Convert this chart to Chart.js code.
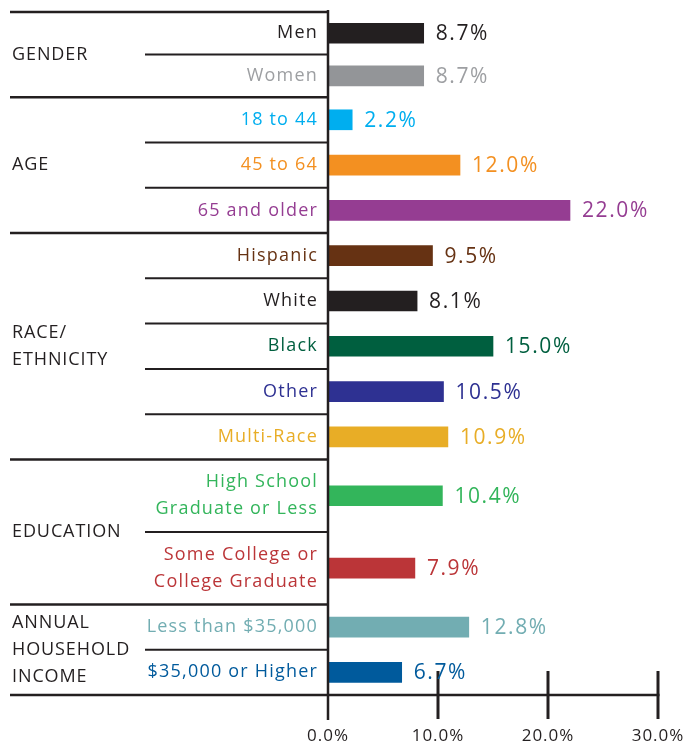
<!DOCTYPE html>
<html>
<head>
<meta charset="utf-8">
<script src="https://cdn.jsdelivr.net/npm/chart.js@4/dist/chart.umd.min.js"></script>
<style>
  html, body { margin: 0; padding: 0; background: #ffffff; }
  #wrap { width: 700px; height: 747px; position: relative; }
</style>
</head>
<body>
<div id="wrap"><canvas id="c" width="700" height="747"></canvas></div>
<script>
// ---- data ----
const groups = ['GENDER', 'AGE', 'RACE/\nETHNICITY', 'EDUCATION', 'ANNUAL\nHOUSEHOLD\nINCOME'];
const categories = ['Men', 'Women', '18 to 44', '45 to 64', '65 and older',
  'Hispanic', 'White', 'Black', 'Other', 'Multi-Race',
  'High School\nGraduate or Less', 'Some College or\nCollege Graduate',
  'Less than $35,000', '$35,000 or Higher'];
const categoryGroup = [0, 0, 1, 1, 1, 2, 2, 2, 2, 2, 3, 3, 4, 4];
const values = [8.7, 8.7, 2.2, 12.0, 22.0, 9.5, 8.1, 15.0, 10.5, 10.9, 10.4, 7.9, 12.8, 6.7];
const xTicks = [0, 10, 20, 30];

// ---- styles / layout ----
const barColors = ['#231f20', '#939598', '#00aeef', '#f39021', '#953d92',
  '#663213', '#231f20', '#005f3f', '#2e3192', '#e8ad26',
  '#33b55b', '#bb3538', '#72adb2', '#005a9c'];
const labelColors = ['#231f20', '#9d9fa2', '#00aeef', '#f39021', '#953d92',
  '#663213', '#231f20', '#005f3f', '#2e3192', '#e8ad26',
  '#33b55b', '#bb3538', '#72adb2', '#005a9c'];
const rowWeights = [0.94, 0.94, 1, 1, 1, 1, 1, 1, 1, 1, 1.6, 1.6, 1, 1];
const INK = '#231f20';
const FONT = '"Open Sans", "DejaVu Sans", sans-serif';

// row centres in row units (layout only)
const rowStart = [];
let acc = 0;
rowWeights.forEach(w => { rowStart.push(acc); acc += w; });
const totalUnits = acc;
const rowCenter = rowWeights.map((w, i) => rowStart[i] + w / 2);

const decorPlugin = {
  id: 'decor',
  beforeDraw(chart) {
    chart.ctx.letterSpacing = '1px';
  },
  afterDatasetsDraw(chart) {
    const ctx = chart.ctx;
    const xs = chart.scales.x, ys = chart.scales.y;
    const area = chart.chartArea;
    const left = xs.getPixelForValue(0);
    ctx.save();
    ctx.strokeStyle = INK;
    ctx.lineCap = 'butt';

    const line = (x1, y, x2, w) => {
      ctx.lineWidth = w;
      ctx.beginPath(); ctx.moveTo(x1, y); ctx.lineTo(x2, y); ctx.stroke();
    };
    line(10, ys.getPixelForValue(0), left, 2.5);
    for (let i = 1; i < categories.length; i++) {
      const y = ys.getPixelForValue(rowStart[i]);
      if (categoryGroup[i] !== categoryGroup[i - 1]) line(10, y, left, 2.5);
      else line(145, y, left, 2);
    }
    line(10, area.bottom, xs.getPixelForValue(xTicks[xTicks.length - 1]) + 1.5, 2.5);

    ctx.lineWidth = 2.5;
    ctx.beginPath(); ctx.moveTo(left, area.top - 2); ctx.lineTo(left, area.bottom + 25); ctx.stroke();
    ctx.lineWidth = 3;
    xTicks.forEach(t => {
      if (t === 0) return;
      const x = xs.getPixelForValue(t);
      ctx.beginPath(); ctx.moveTo(x, area.bottom - 24); ctx.lineTo(x, area.bottom + 24); ctx.stroke();
    });

    // category labels
    ctx.textAlign = 'right';
    ctx.textBaseline = 'middle';
    ctx.font = '18px ' + FONT;
    ctx.letterSpacing = '1.2px';
    categories.forEach((c, i) => {
      const yc = ys.getPixelForValue(rowCenter[i]);
      const lines = c.split('\n');
      ctx.fillStyle = labelColors[i];
      lines.forEach((l, k) => {
        const y = yc + (k - (lines.length - 1) / 2) * 27;
        ctx.fillText(l, left - 10, y);
      });
    });

    // group labels
    ctx.textAlign = 'left';
    ctx.fillStyle = INK;
    ctx.font = '18px ' + FONT;
    ctx.letterSpacing = '0.9px';
    groups.forEach((g, gi) => {
      const idx = categoryGroup.map((v, i) => v === gi ? i : -1).filter(i => i >= 0);
      const y0 = ys.getPixelForValue(rowStart[idx[0]]);
      const last = idx[idx.length - 1];
      const y1 = ys.getPixelForValue(rowStart[last] + rowWeights[last]);
      const yc = (y0 + y1) / 2;
      const lines = g.split('\n');
      lines.forEach((l, k) => {
        ctx.fillText(l, 12, yc + (k - (lines.length - 1) / 2) * 27);
      });
    });

    // value labels
    ctx.font = '21px ' + FONT;
    ctx.letterSpacing = '1.6px';
    const meta = chart.getDatasetMeta(0);
    meta.data.forEach((bar, i) => {
      ctx.fillStyle = labelColors[i];
      ctx.fillText(values[i].toFixed(1) + '%', bar.x + 12, bar.y + 1);
    });
    ctx.restore();
  }
};

new Chart(document.getElementById('c'), {
  type: 'bar',
  data: {
    datasets: [{
      data: values.map((v, i) => ({ x: v, y: rowCenter[i] })),
      backgroundColor: barColors,
      borderWidth: 0,
      barThickness: 20
    }]
  },
  options: {
    indexAxis: 'y',
    responsive: false,
    animation: false,
    events: [],
    layout: { padding: { left: 328, right: 42, top: 12, bottom: 0 } },
    plugins: { legend: { display: false }, tooltip: { enabled: false } },
    scales: {
      x: {
        type: 'linear',
        min: 0, max: 30,
        afterFit(scale) {
          scale.height = 52;
          scale.paddingLeft = 0;
          scale.paddingRight = 0;
        },
        afterBuildTicks(scale) { scale.ticks = xTicks.map(v => ({ value: v })); },
        grid: { display: false, drawTicks: false },
        border: { display: false },
        ticks: {
          padding: 31,
          color: INK,
          font: { family: FONT, size: 17 },
          maxRotation: 0,
          callback: v => Number(v).toFixed(1) + '%'
        }
      },
      y: {
        type: 'linear',
        display: false,
        reverse: true,
        offset: false,
        grid: { offset: false },
        min: 0, max: totalUnits
      }
    }
  },
  plugins: [decorPlugin]
});
</script>
</body>
</html>
